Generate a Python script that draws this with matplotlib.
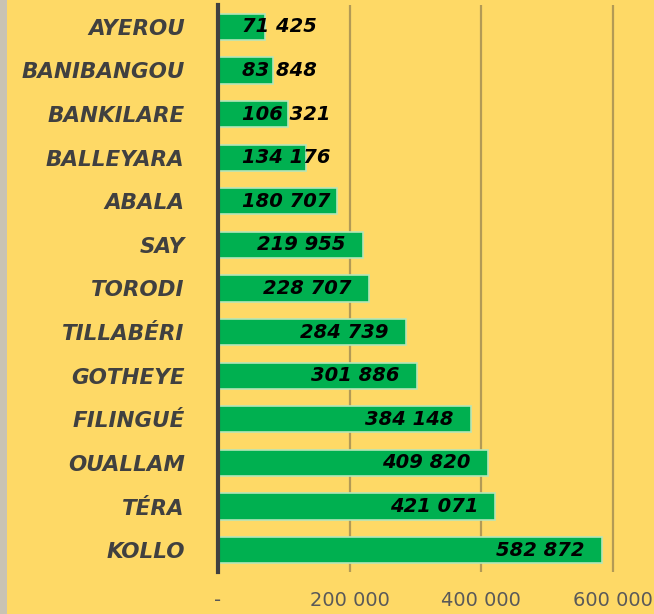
import matplotlib.pyplot as plt
from matplotlib.patches import Rectangle

communes = ["AYEROU", "BANIBANGOU", "BANKILARE", "BALLEYARA", "ABALA", "SAY",
            "TORODI", "TILLABÉRI", "GOTHEYE", "FILINGUÉ", "OUALLAM", "TÉRA", "KOLLO"]
population = [71425, 83848, 106321, 134176, 180707, 219955,
              228707, 284739, 301886, 384148, 409820, 421071, 582872]
xticks = [0, 200000, 400000, 600000]
xtick_labels = ["-", "200 000", "400 000", "600 000"]

BG = "#fed966"
GREEN = "#00b050"
FONT = "DejaVu Sans"


def fmt(v):
    return f"{v:,}".replace(",", " ")


fig = plt.figure(figsize=(6.54, 6.14), dpi=100, facecolor=BG)
# grey strip on the left edge
fig.patches.append(Rectangle((0, 0), 7 / 654, 1, transform=fig.transFigure,
                             facecolor="#c9c3b3", edgecolor="none"))

ax = fig.add_axes([218 / 654, 1 - 572 / 614, 430 / 654, 567 / 614])
ax.set_facecolor(BG)

y = list(range(len(communes)))
ax.barh(y, population, height=0.6, color=GREEN, edgecolor="#b6e6b8",
        linewidth=1.2, zorder=3)

ax.set_xlim(0, 430 / 131.7 * 200000)
ax.set_ylim(len(communes) - 0.5, -0.5)

ax.set_yticks(y)
ax.set_yticklabels(communes, family=FONT, fontsize=15.5, fontweight="bold",
                   fontstyle="italic", color="#404040")
ax.set_xticks(xticks)
ax.set_xticklabels(xtick_labels, family=FONT, fontsize=14, color="#595959")
ax.tick_params(axis="y", length=0, pad=24)
ax.tick_params(axis="x", length=0, pad=14)

ax.grid(axis="x", color="#b39a55", linewidth=1.6, zorder=1)
for s in ["top", "right", "bottom"]:
    ax.spines[s].set_visible(False)
ax.spines["left"].set_color("#404040")
ax.spines["left"].set_linewidth(3)
ax.spines["left"].set_zorder(4)

# value labels: inside end, but never closer than 24px to the axis
fig.canvas.draw()
renderer = fig.canvas.get_renderer()
x0 = ax.transData.transform((0, 0))[0]
for yi, v in zip(y, population):
    t = ax.annotate(fmt(v), (v, yi), xytext=(-17, 0), textcoords="offset pixels",
                    ha="right", va="center", family=FONT, fontsize=14,
                    fontweight="bold", fontstyle="italic", color="black", zorder=5)
    bb = t.get_window_extent(renderer)
    if bb.x0 < x0 + 24:
        t.remove()
        ax.annotate(fmt(v), (0, yi), xytext=(24, 0), textcoords="offset pixels",
                    ha="left", va="center", family=FONT, fontsize=14,
                    fontweight="bold", fontstyle="italic", color="black", zorder=5)

fig.savefig("out.png", dpi=100, facecolor=BG)
